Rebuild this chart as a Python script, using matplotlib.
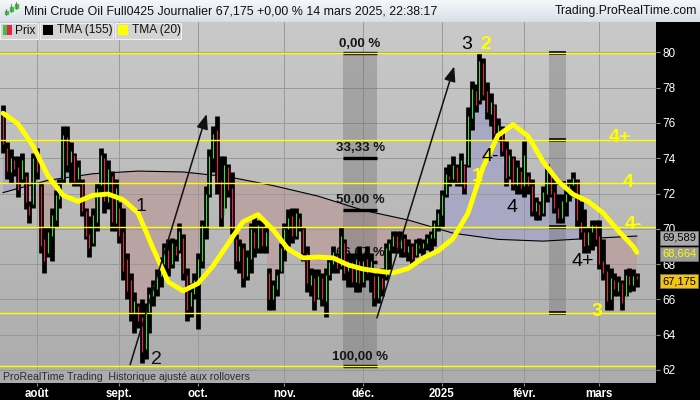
# Mini Crude Oil daily chart, ProRealTime look
import numpy as np
import matplotlib
matplotlib.use("Agg")
from matplotlib import pyplot as plt
from matplotlib.patches import Polygon, Rectangle
import matplotlib.colors as mcolors

plt.rcParams['font.family'] = ['Liberation Sans', 'DejaVu Sans']

# daily bars, 19 juil. 2024 -> 14 mars 2025
highs = [77.0, 74.9, 74.5, 74.1, 74.1, 74.3, 73.2, 71.6, 74.3, 74.6,
         72.6, 70.1, 70.1, 71.2, 72.2, 72.8, 75.8, 75.8, 74.9, 74.3,
         73.9, 72.8, 71.2, 70.7, 71.2, 72.6, 74.6, 74.3, 73.9, 73.3,
         72.8, 71.5, 71.2, 68.6, 67.5, 66.4, 65.8, 66.0, 65.8, 66.7,
         67.1, 67.7, 68.4, 69.2, 69.4, 69.5, 69.4, 70.3, 69.7, 67.8,
         66.9, 67.5, 68.6, 70.5, 72.4, 74.5, 75.8, 76.4, 74.1, 74.1,
         73.7, 73.2, 69.7, 69.4, 69.2, 68.8, 70.3, 70.7, 70.5, 70.5,
         70.1, 67.8, 67.1, 67.7, 69.2, 70.3, 71.1, 71.2, 71.2, 70.9,
         70.1, 69.0, 67.8, 67.7, 67.7, 67.5, 67.8, 68.4, 69.0, 68.6,
         70.1, 69.4, 68.6, 68.6, 68.6, 69.0, 68.6, 69.0, 68.6, 67.5,
         67.7, 67.8, 69.2, 69.4, 69.9, 69.9, 69.9, 69.7, 69.4, 69.2,
         69.4, 69.5, 69.4, 69.7, 69.9, 70.5, 71.1, 72.2, 73.5, 73.7,
         74.1, 73.7, 74.3, 73.7, 76.9, 78.4, 78.2, 79.95, 79.7, 78.3,
         77.7, 77.1, 76.3, 75.8, 75.0, 74.5, 74.1, 73.9, 73.5, 75.0,
         73.2, 72.8, 71.8, 71.6, 72.4, 73.7, 73.2, 72.8, 72.0, 72.0,
         72.4, 72.8, 73.2, 72.8, 71.6, 71.1, 70.1, 70.5, 70.5, 70.5,
         69.4, 68.0, 67.8, 67.5, 67.3, 67.1, 67.7, 67.8, 67.7, 67.5]
lows = [74.3, 72.8, 72.6, 73.0, 71.8, 72.6, 71.1, 70.3, 71.2, 72.8,
        68.6, 67.5, 68.4, 68.2, 70.1, 71.2, 72.6, 73.2, 72.6, 72.4,
        72.4, 70.7, 69.4, 68.4, 69.0, 69.9, 72.0, 70.9, 71.1, 69.9,
        69.9, 69.2, 67.1, 66.0, 64.8, 64.1, 64.4, 62.4, 62.6, 64.1,
        65.6, 66.2, 66.7, 67.5, 67.3, 67.8, 68.2, 68.6, 67.1, 64.8,
        65.0, 66.0, 64.3, 67.8, 69.4, 71.8, 73.2, 72.0, 70.1, 71.2,
        71.8, 69.7, 67.7, 67.5, 66.7, 67.1, 67.5, 68.4, 68.6, 68.6,
        68.6, 65.4, 65.4, 66.2, 67.5, 68.2, 69.0, 69.2, 69.4, 69.9,
        68.2, 66.4, 66.2, 65.4, 66.0, 65.6, 65.0, 67.1, 67.5, 67.5,
        67.7, 67.1, 66.7, 66.7, 66.4, 66.4, 66.7, 67.1, 66.4, 65.6,
        65.8, 66.2, 67.1, 67.7, 68.6, 68.6, 68.4, 68.4, 68.2, 68.0,
        68.4, 68.6, 68.4, 68.8, 68.6, 69.0, 69.9, 70.1, 71.8, 72.4,
        72.6, 72.4, 72.4, 72.0, 73.5, 75.6, 76.6, 77.1, 77.3, 76.2,
        75.8, 75.0, 75.0, 74.1, 72.4, 72.8, 72.2, 72.0, 72.0, 71.8,
        72.0, 70.7, 70.5, 70.5, 70.7, 71.5, 71.8, 70.9, 70.3, 70.3,
        70.7, 71.6, 71.8, 70.1, 69.4, 68.6, 68.6, 68.8, 69.0, 67.7,
        67.1, 65.4, 65.4, 66.2, 66.2, 65.4, 66.2, 66.4, 66.5, 66.7]
opens = [76.6, 74.6, 73.2, 73.9, 73.5, 72.8, 73.0, 71.3, 71.4, 74.1,
         72.4, 69.4, 68.6, 69.6, 70.5, 71.7, 72.8, 75.2, 73.8, 74.2,
         72.8, 72.6, 71.0, 69.7, 69.2, 70.4, 72.5, 74.0, 71.5, 73.0,
         70.3, 71.2, 69.8, 68.3, 67.1, 65.2, 65.6, 65.0, 63.2, 65.3,
         66.2, 66.6, 67.3, 68.0, 68.8, 68.0, 69.0, 68.8, 69.5, 67.4,
         65.6, 66.3, 67.0, 68.2, 70.1, 72.0, 74.0, 75.6, 72.7, 70.8,
         73.5, 72.3, 69.4, 68.2, 68.9, 67.3, 68.3, 69.8, 68.9, 70.1,
         69.0, 67.5, 66.0, 66.6, 67.6, 68.8, 70.0, 70.7, 69.6, 70.6,
         70.0, 68.6, 66.8, 67.2, 66.1, 67.2, 65.9, 67.4, 68.0, 68.5,
         67.9, 69.2, 67.6, 68.1, 67.0, 68.2, 67.0, 68.3, 67.6, 67.3,
         66.1, 67.2, 67.3, 68.8, 69.0, 69.6, 68.9, 69.5, 68.7, 69.0,
         68.5, 69.1, 68.9, 69.2, 69.5, 69.5, 70.2, 70.8, 72.0, 73.0,
         72.8, 73.5, 72.6, 73.6, 73.6, 76.3, 77.8, 77.3, 79.4, 77.8,
         76.5, 77.0, 75.5, 75.7, 74.5, 73.0, 74.0, 72.5, 73.3, 72.4,
         73.0, 72.4, 71.0, 71.4, 70.9, 72.0, 73.1, 72.1, 71.2, 70.6,
         71.5, 72.0, 72.5, 72.7, 70.4, 69.8, 69.1, 69.8, 70.2, 69.6,
         68.2, 67.6, 66.0, 67.1, 66.5, 66.9, 66.0, 67.3, 66.8, 67.3]
closes = [74.8, 73.3, 74.0, 73.4, 72.2, 73.9, 71.5, 70.8, 74.0, 73.2,
          69.0, 68.2, 69.8, 70.8, 71.9, 72.5, 75.3, 73.6, 74.4, 72.7,
          73.5, 71.0, 69.6, 68.9, 70.8, 72.3, 74.2, 71.6, 73.4, 70.4,
          72.3, 69.6, 67.6, 66.5, 65.3, 65.9, 64.8, 63.0, 65.4, 66.3,
          66.8, 67.4, 68.0, 68.9, 67.8, 69.2, 68.5, 69.9, 67.5, 65.4,
          66.4, 67.1, 68.3, 70.2, 72.0, 74.1, 75.4, 72.6, 70.6, 73.6,
          72.2, 70.0, 68.2, 69.0, 67.2, 68.4, 70.0, 68.9, 70.2, 69.0,
          69.8, 66.0, 66.8, 67.4, 68.9, 70.0, 70.6, 69.6, 70.9, 70.1,
          68.6, 66.9, 67.4, 65.9, 67.3, 66.0, 67.4, 68.1, 68.7, 67.8,
          69.6, 67.5, 68.2, 67.0, 68.3, 66.9, 68.2, 67.5, 68.2, 66.1,
          67.3, 66.6, 68.9, 69.2, 69.6, 68.9, 69.6, 68.7, 69.0, 68.3,
          69.2, 68.9, 69.2, 69.5, 69.7, 70.3, 70.9, 71.9, 73.1, 72.8,
          73.6, 72.7, 73.9, 72.3, 76.4, 77.9, 77.0, 79.5, 77.6, 76.6,
          77.2, 75.4, 75.9, 74.4, 72.9, 74.2, 72.5, 73.5, 72.3, 74.2,
          72.4, 71.0, 71.5, 70.8, 72.1, 73.3, 72.0, 71.2, 70.6, 71.6,
          72.0, 72.5, 72.9, 70.5, 69.8, 69.0, 69.8, 70.2, 69.4, 68.0,
          67.5, 65.9, 67.2, 66.6, 67.0, 65.8, 67.4, 66.8, 67.3, 67.175]

# moving averages read at a subset of bars
tma155_bars = [0, 12, 24, 36, 48, 60, 72, 84, 96, 108, 120, 132, 144, 156, 169]
tma155 = [72.05, 72.75, 73.12, 73.27, 73.22, 72.95, 72.45, 71.85, 71.05,
          70.5, 69.75, 69.4, 69.3, 69.45, 69.589]
tma20_bars = list(range(0, 169, 4)) + [169]
tma20 = [76.55, 75.95, 74.7, 73.0, 71.9, 71.55, 71.9, 71.97, 71.65, 70.9,
         68.9, 67.0, 66.48, 66.9, 67.9, 69.15, 70.4, 70.8, 69.95, 68.85,
         68.35, 68.4, 68.35, 67.95, 67.72, 67.6, 67.5, 67.75, 68.35, 68.75,
         69.45, 70.9, 73.5, 75.3, 75.9, 75.25, 73.8, 72.7, 71.95, 71.55,
         70.9, 69.9, 69.0, 68.664]

month_bars = [9, 31, 52, 75, 96, 117, 139, 159]
month_labels = ['août', 'sept.', 'oct.', 'nov.', 'déc.', '2025', 'févr.', 'mars']

level_lines = [79.95, 75.05, 72.58, 70.08, 65.2, 62.2]
band2_levels = [79.95, 75.05, 72.58, 70.08, 65.2]
fib_pct = [0.0, 33.33, 50.0, 66.67, 100.0]
fib_top, fib_bottom = 79.95, 62.2

W, H = 700, 400
fig = plt.figure(figsize=(7, 4), dpi=100, facecolor='black')
ax = fig.add_axes([0, 17 / H, 656 / W, 361 / H])

# background gradient
grad = np.linspace(0, 1, 256).reshape(-1, 1)
bg = mcolors.LinearSegmentedColormap.from_list('bg', ['#c9c9c9', '#acacac'])
ax.imshow(grad, cmap=bg, aspect='auto', extent=[0, 1, 0, 1],
          transform=ax.transAxes, zorder=0)

bars = np.arange(len(closes))

# fill between close and TMA(155)
fx = np.r_[bars, tma155_bars[::-1]]
fy = np.r_[closes, tma155[::-1]]
below = Polygon(list(zip(tma155_bars, tma155)) + [(180, 40), (-5, 40)], transform=ax.transData)
above = Polygon(list(zip(tma155_bars, tma155)) + [(180, 100), (-5, 100)], transform=ax.transData)
pink = ax.fill(fx, fy, color='#b9a3a3', lw=0, zorder=1)[0]
pink.set_clip_path(below)
lav = ax.fill(fx, fy, color='#a8a8c4', lw=0, zorder=1)[0]
lav.set_clip_path(above)

# grid
for v in range(62, 81, 2):
    ax.axhline(v, color='#999999', lw=0.7, zorder=2)
for b in month_bars:
    ax.axvline(b, color='#999999', lw=0.7, zorder=2)

# fibonacci bands
ax.add_patch(Rectangle((90.7, fib_bottom), 9.0, fib_top - fib_bottom,
                       color='#6a6a6a', alpha=0.35, lw=0, zorder=2.5))
ax.add_patch(Rectangle((145.6, 65.2), 4.5, fib_top - 65.2,
                       color='#6a6a6a', alpha=0.35, lw=0, zorder=2.5))
for p in fib_pct:
    lvl = fib_top - p / 100 * (fib_top - fib_bottom)
    ax.plot([90.7, 99.7], [lvl, lvl], color='black', lw=2.4, solid_capstyle='butt', zorder=3)
    ax.annotate(f'{p:.2f} %'.replace('.', ','), xy=(95.2, lvl), xytext=(0, 2.5),
                textcoords='offset points', ha='center', va='bottom',
                fontsize=9.5, fontweight='bold', color='#151515', zorder=3)
for lvl in band2_levels:
    ax.plot([145.6, 150.1], [lvl, lvl], color='black', lw=2.6, solid_capstyle='butt', zorder=3)

ax.plot(tma155_bars, tma155, color='black', lw=0.8, zorder=3)

# candles
ax.vlines(bars, lows, highs, color='black', lw=3.4, zorder=5)
col = ['#40d840' if c >= o else '#e8204c' for o, c in zip(opens, closes)]
ax.vlines(bars, opens, closes, colors=col, lw=0.8, zorder=5.5)

for lvl in level_lines:
    ax.axhline(lvl, color='#ffff00', lw=1.0, zorder=6)

ax.plot(tma20_bars, tma20, color='#ffff00', lw=3.5, solid_joinstyle='round',
        solid_capstyle='round', zorder=7)

# arrows
for (x0, y0), (x1, y1) in [((33.9, 62.3), (54.3, 76.5)), ((99.7, 64.95), (120.3, 79.2))]:
    ax.annotate('', xy=(x1, y1), xytext=(x0, y0),
                arrowprops=dict(arrowstyle='-|>,head_length=0.9,head_width=0.35',
                                color='#111111', lw=1.1, shrinkA=0, shrinkB=0), zorder=8)

# wave labels
waves = [('3', 123.5, 80.47, 'black'), ('2', 128.8, 80.47, '#ffff00'),
         ('1', 126.3, 72.95, '#ffff00'), ('4-', 129.9, 74.12, 'black'),
         ('4', 135.7, 71.23, 'black'), ('4+', 154.7, 68.12, 'black'),
         ('4+', 164.5, 75.2, '#ffff00'), ('4', 166.7, 72.65, '#ffff00'),
         ('4-', 168.0, 70.27, '#ffff00'), ('3', 158.4, 65.34, '#ffff00'),
         ('1', 36.8, 71.29, '#111111'), ('2', 40.8, 62.57, '#111111')]
for t, x, y, c in waves:
    ax.text(x, y, t, color=c, fontsize=14, ha='center', va='center',
            fontweight='bold' if c == '#ffff00' else 'normal', zorder=9)

ax.set_xlim(-0.8, 174.1)
ax.set_ylim(61.26, 81.72)
for s in ax.spines.values():
    s.set_visible(False)
ax.yaxis.tick_right()
ax.set_yticks(range(62, 81, 2))
ax.tick_params(axis='y', colors='#909090', labelcolor='white', length=3, pad=1.5, labelsize=8.5)
ax.set_xticks(month_bars)
ax.set_xticklabels(month_labels, fontweight='bold')
ax.tick_params(axis='x', colors='#909090', labelcolor='white', length=2.5, pad=1, labelsize=8.3)

fig.text(3 / W, 1 - 377 / H, 'ProRealTime Trading  Historique ajusté aux rollovers',
         fontsize=7.6, color='#2a2a38', va='center', ha='left')

# right-hand value boxes
for txt, y, fc, tc in [('69,589', 238, '#a9a9a9', 'black'),
                       ('68,664', 254, '#9c9c9c', '#ffff00'),
                       ('67,175', 281, '#f2c318', 'black')]:
    fig.text(679 / W, 1 - y / H, txt, fontsize=8, color=tc, ha='center', va='center',
             bbox=dict(boxstyle='square,pad=0.18', fc=fc, ec='#707070', lw=0.6))

# header
hax = fig.add_axes([0, 1 - 22 / H, 1, 22 / H])
hgrad = mcolors.LinearSegmentedColormap.from_list('hd', ['#f5f8fb', '#d8e0e9'])
hax.imshow(grad, cmap=hgrad, aspect='auto', extent=[0, W, 22, 0])
hax.set_xlim(0, W)
hax.set_ylim(22, 0)
hax.axis('off')
hax.axhline(21.5, color='#9aa6b2', lw=0.8)
for x, y0, y1, b0, b1 in [(6, 15, 9, 14, 11), (11, 12, 4, 11, 7), (16, 9, 2, 8, 4)]:
    hax.plot([x, x], [y0, y1], color='#707070', lw=0.6)
    hax.add_patch(Rectangle((x - 1.5, b1), 3, b0 - b1, color='#40c040'))
hax.text(24, 11, 'Mini Crude Oil Full0425 Journalier 67,175 +0,00 % 14 mars 2025, 22:38:17',
         fontsize=8.9, color='#101010', va='center', ha='left')
hax.text(697, 11, 'Trading.ProRealTime.com', fontsize=8.8, color='#101010',
         va='center', ha='right')

# legend boxes
for x0, x1, label, sw in [(0, 38, 'Prix', None), (40, 113, 'TMA (155)', 'black'),
                          (115, 181, 'TMA (20)', '#ffff00')]:
    fig.add_artist(Rectangle((x0 / W, 1 - 39 / H), (x1 - x0) / W, 16 / H,
                             transform=fig.transFigure, fc='#d3d3d3', ec='#f0f0f0', lw=0.8))
    if sw is None:
        fig.add_artist(Rectangle((3 / W, 1 - 35 / H), 4 / W, 10 / H, transform=fig.transFigure,
                                 fc='#40c040', lw=0))
        fig.add_artist(Rectangle((7 / W, 1 - 35 / H), 5 / W, 10 / H, transform=fig.transFigure,
                                 fc='#e8204c', lw=0))
        tx = 15
    else:
        fig.add_artist(Rectangle(((x0 + 3) / W, 1 - 35 / H), 10 / W, 10 / H,
                                 transform=fig.transFigure, fc=sw, lw=0))
        tx = x0 + 17
    fig.text(tx / W, 1 - 30.5 / H, label, fontsize=8.6, color='#101010', va='center', ha='left')

fig.savefig('out.png', dpi=100, facecolor='black')
